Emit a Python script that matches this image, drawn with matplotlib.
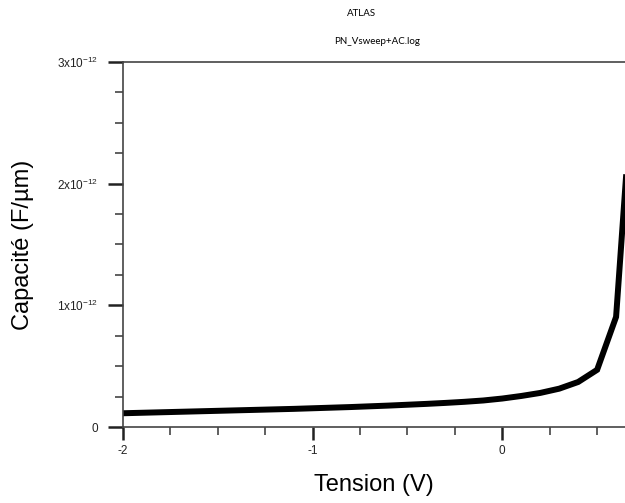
import matplotlib
matplotlib.use("Agg")
import matplotlib.pyplot as plt
from matplotlib.ticker import MultipleLocator, FixedLocator

voltage = [-2.0, -1.9, -1.8, -1.7, -1.6, -1.5, -1.4, -1.3, -1.2, -1.1, -1.0,
           -0.9, -0.8, -0.7, -0.6, -0.5, -0.4, -0.3, -0.2, -0.1, 0.0,
           0.1, 0.2, 0.3, 0.4, 0.5, 0.6, 0.7]
capacitance = [0.113, 0.117, 0.121, 0.125, 0.129, 0.133, 0.137, 0.141, 0.145, 0.149, 0.154,
               0.159, 0.164, 0.170, 0.176, 0.183, 0.190, 0.198, 0.207, 0.218, 0.234,
               0.255, 0.280, 0.315, 0.370, 0.470, 0.905, 3.1]  # x1e-12 F/um
capacitance = [c * 1e-12 for c in capacitance]

xticks = [-2, -1, 0]
xticklabels = ["-2", "-1", "0"]
yticks = [0, 1e-12, 2e-12, 3e-12]
yticklabels = ["0", "1x10$^{-12}$", "2x10$^{-12}$", "3x10$^{-12}$"]

plt.rcParams['mathtext.default'] = 'regular'
plt.rcParams['font.family'] = ['Liberation Sans', 'DejaVu Sans']

fig = plt.figure(figsize=(6.25, 5.03), dpi=100)
ax = fig.add_axes([123/625, 1 - 427/503, 1 - 123/625, (427 - 62)/503])
ax.plot(voltage, capacitance, color='black', lw=4.3, solid_joinstyle='miter')
ax.set_xlim(-2, 0.647)
ax.set_ylim(0, 3e-12)

ax.xaxis.set_major_locator(FixedLocator(xticks))
ax.set_xticklabels(xticklabels)
ax.xaxis.set_minor_locator(MultipleLocator(0.25))
ax.yaxis.set_major_locator(FixedLocator(yticks))
ax.set_yticklabels(yticklabels)
ax.yaxis.set_minor_locator(MultipleLocator(0.25e-12))

spine_col = '#444444'
for s in ['left', 'bottom', 'top']:
    ax.spines[s].set_color(spine_col)
    ax.spines[s].set_linewidth(1.2)
ax.spines['right'].set_visible(False)

ax.tick_params(which='major', direction='out', length=11, width=1.8, color='#222222',
               labelsize=8.5, pad=7, labelcolor='#222222')
ax.tick_params(which='minor', direction='out', length=6, width=1.2, color='#444444')
ax.tick_params(axis='x', which='major', length=9, pad=4)
ax.tick_params(axis='x', which='minor', length=6)

ax.set_xlabel("Tension (V)", fontsize=17, labelpad=12)
ax.set_ylabel("Capacité (F/µm)", fontsize=17)
ax.yaxis.set_label_coords((34 - 123) / 502, 0.5)

fig.text(362/625, 1 - 13/503, "ATLAS", ha='center', va='center', fontsize=7,
         family=['Lato', 'DejaVu Sans'])
fig.text(377/625, 1 - 41/503, "PN_Vsweep+AC.log", ha='center', va='center', fontsize=7,
         family=['Lato', 'DejaVu Sans'])

fig.savefig("out.png", dpi=100)
